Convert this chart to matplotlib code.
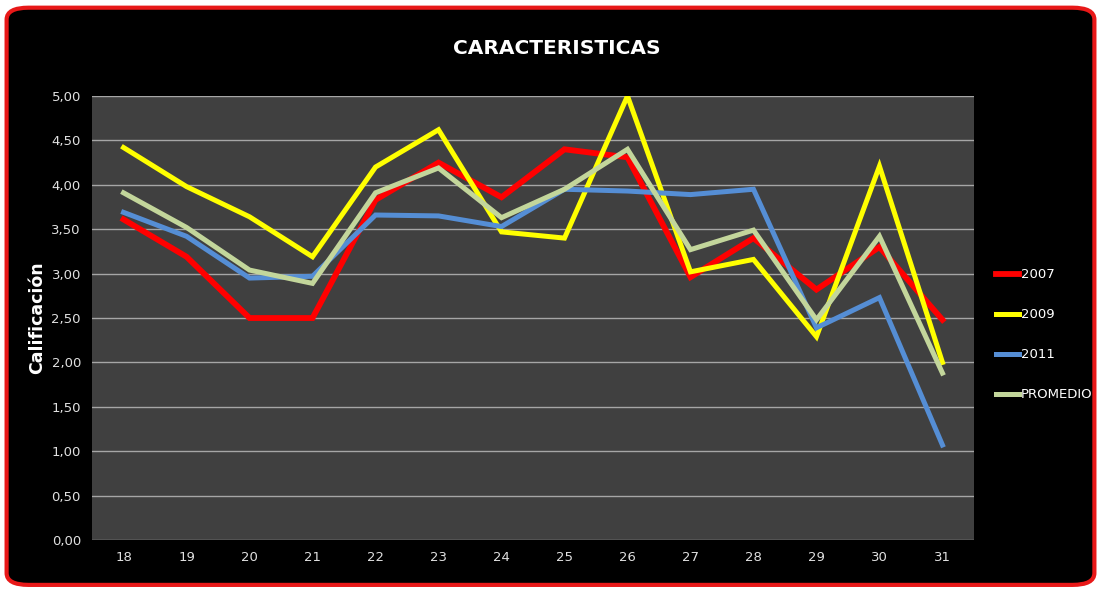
import matplotlib.pyplot as plt
from matplotlib.patches import FancyBboxPatch
from matplotlib.ticker import FuncFormatter

plt.rcParams['font.family'] = ['Liberation Sans Narrow', 'DejaVu Sans']

# data
ages = ["18", "19", "20", "21", "22", "23", "24", "25", "26", "27", "28", "29", "30", "31"]
s2007 = [3.61, 3.19, 2.50, 2.50, 3.83, 4.25, 3.86, 4.40, 4.31, 2.96, 3.40, 2.82, 3.30, 2.48]
s2009 = [4.42, 3.98, 3.64, 3.19, 4.20, 4.62, 3.47, 3.40, 5.00, 3.02, 3.16, 2.29, 4.21, 2.00]
s2011 = [3.69, 3.42, 2.95, 2.97, 3.66, 3.65, 3.53, 3.95, 3.93, 3.89, 3.95, 2.39, 2.73, 1.07]
promedio = [3.91, 3.52, 3.04, 2.89, 3.91, 4.19, 3.63, 3.95, 4.40, 3.27, 3.49, 2.48, 3.42, 1.88]

series = [("2007", s2007, "#ff0000", 4.2),
          ("2009", s2009, "#ffff00", 3.6),
          ("2011", s2011, "#558ed5", 3.6),
          ("PROMEDIO", promedio, "#c3d69b", 3.6)]

fig = plt.figure(figsize=(11.01, 5.92), dpi=100, facecolor="white")

# red rounded frame with black inside (behind the axes)
frame = FancyBboxPatch((0.006, 0.012), 0.988, 0.975, boxstyle="round,pad=0,rounding_size=0.02",
                       transform=fig.transFigure, facecolor="black", edgecolor="#e81818",
                       linewidth=3, zorder=-10)
fig.add_artist(frame)

ax = fig.add_axes([0.0836, 0.0878, 0.801, 0.750])
ax.set_facecolor("#404040")
x = list(range(len(ages)))
for name, vals, col, lw in series:
    ax.plot(x, vals, color=col, lw=lw, label=name, solid_joinstyle="miter", zorder=3)

ax.set_xlim(-0.5, len(ages) - 0.5)
ax.set_ylim(0, 5)
ax.set_yticks([i * 0.5 for i in range(11)])
ax.yaxis.set_major_formatter(FuncFormatter(lambda v, p: f"{v:.2f}".replace(".", ",")))
ax.set_xticks(x)
ax.set_xticklabels(ages)
ax.grid(axis="y", color="#a6a6a6", lw=1, zorder=1)
ax.set_axisbelow(True)
for sp in ax.spines.values():
    sp.set_visible(False)
ax.tick_params(colors="#e0e0e0", labelsize=9.5, length=0, pad=8)

ax.set_ylabel("Calificación", color="white", fontsize=12.5, fontweight="bold",
              family=["DejaVu Sans"], labelpad=4)
fig.text(0.506, 0.918, "CARACTERISTICAS", color="white", fontsize=14.5, fontweight="bold",
         ha="center", va="center")

leg = ax.legend(loc="center left", bbox_to_anchor=(1.012, 0.462), frameon=False,
                handlelength=1.7, handletextpad=0.15, labelspacing=2.05, fontsize=9.5)
for t in leg.get_texts():
    t.set_color("white")

fig.savefig("out.png", dpi=100, facecolor="white")
